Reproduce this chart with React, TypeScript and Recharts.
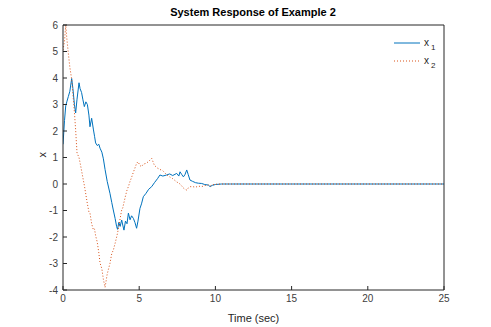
import { LineChart, Line, XAxis, YAxis, Legend } from "recharts";

const times = [
  0, 0.1, 0.18, 0.25, 0.35, 0.45, 0.57, 0.65, 0.75, 0.83, 0.92, 1.05, 1.12, 1.22, 1.3, 1.4, 1.5, 1.6, 1.7, 1.77,
  1.88, 2.0, 2.07, 2.14, 2.25, 2.35, 2.43, 2.55, 2.65, 2.76, 2.9, 3.08, 3.2, 3.3, 3.42, 3.52, 3.58, 3.66, 3.75,
  3.85, 3.92, 4.0, 4.1, 4.2, 4.29, 4.4, 4.5, 4.62, 4.72, 4.83, 4.92, 5.05, 5.15, 5.27, 5.45, 5.62, 5.82, 6.0, 6.2,
  6.36, 6.55, 6.8, 7.0, 7.2, 7.46, 7.6, 7.68, 7.8, 7.9, 8.0, 8.12, 8.22, 8.33, 8.5, 8.7, 8.88, 9.1, 9.3, 9.54,
  9.65, 9.8, 10.0, 10.4, 11, 12, 15, 20, 25,
];

const x1 = [
  1.5, 2.4, 2.95, 3.1, 3.3, 3.5, 3.98, 3.6, 3.0, 2.68, 3.2, 3.82, 3.6, 3.45, 3.2, 2.92, 3.1, 3.0, 2.6, 2.16,
  2.48, 2.04, 1.8, 1.55, 1.45, 1.5, 1.35, 1.2, 0.95, 0.55, 0.1, -0.35, -0.7, -0.98, -1.3, -1.61, -1.71, -1.45, -1.6,
  -1.36, -1.55, -1.74, -1.4, -1.5, -1.1, -1.35, -1.2, -1.3, -1.45, -1.67, -1.4, -0.92, -0.75, -0.48, -0.35, -0.2, -0.1, 0.05, 0.2,
  0.34, 0.3, 0.34, 0.38, 0.32, 0.4, 0.3, 0.46, 0.35, 0.27, 0.35, 0.53, 0.35, 0.15, 0.1, 0.05, 0.03, 0.02, -0.02, -0.04,
  -0.1, -0.05, -0.02, 0, 0, 0, 0, 0, 0,
];

const x2 = [
  5.05, 5.4, 6.0, 5.5, 4.93, 4.4, 3.95, 3.4, 2.7, 2.04, 1.17, 1.0, 0.8, 0.5, 0.25, -0.05, -0.4, -0.75, -1.05, -1.1,
  -1.5, -1.74, -1.7, -1.95, -2.2, -2.6, -2.98, -3.2, -3.6, -3.9, -3.4, -3.0, -2.62, -2.5, -2.24, -2.0, -1.85, -1.6, -1.3,
  -0.98, -0.9, -0.7, -0.45, -0.23, -0.1, 0.1, 0.25, 0.45, 0.6, 0.78, 0.84, 0.7, 0.65, 0.75, 0.78, 0.85, 0.97, 0.7, 0.6,
  0.55, 0.5, 0.35, 0.27, 0.2, 0.08, 0.03, 0.0, -0.08, -0.15, -0.2, -0.23, -0.15, -0.1, -0.1, -0.12, -0.08, -0.1, -0.06, -0.04,
  -0.08, -0.03, -0.01, 0, 0, 0, 0, 0, 0,
];

const xTicks = [0, 5, 10, 15, 20, 25];
const yTicks = [-4, -3, -2, -1, 0, 1, 2, 3, 4, 5, 6];

const data = times.map((t, i) => ({ t, x1: x1[i], x2: x2[i] }));

const FONT = "'Liberation Sans', Arial, sans-serif";
const AXIS = "#262626";
const BLUE = "#0072BD";
const ORANGE = "#D95319";

function LegendBox() {
  return (
    <svg width={70} height={40} style={{ fontFamily: FONT }}>
      <line x1={4} y1={9} x2={30} y2={9} stroke={BLUE} strokeWidth={1} />
      <text x={34} y={12} fontSize={10} fill={AXIS}>x</text>
      <text x={41} y={16} fontSize={8} fill={AXIS}>1</text>
      <line x1={4} y1={27} x2={30} y2={27} stroke={ORANGE} strokeWidth={1} strokeDasharray="1 2" />
      <text x={34} y={30} fontSize={10} fill={AXIS}>x</text>
      <text x={41} y={34} fontSize={8} fill={AXIS}>2</text>
    </svg>
  );
}

export default function App() {
  return (
    <div style={{ position: "absolute", left: 0, top: 0, width: 491, height: 327, background: "#fff", fontFamily: FONT }}>
      <LineChart width={491} height={327} data={data} margin={{ top: 24, right: 46, bottom: 0, left: 13 }}>
        <XAxis
          dataKey="t"
          type="number"
          domain={[0, 25]}
          ticks={xTicks}
          allowDataOverflow
          stroke={AXIS}
          tickSize={-4}
          tickMargin={9}
          tick={{ fontSize: 10, fill: "#404040" }}
          height={37}
          label={{ value: "Time (sec)", position: "insideBottom", offset: 5, fontSize: 11, fill: AXIS }}
        />
        <XAxis xAxisId="top" orientation="top" dataKey="t" type="number" domain={[0, 25]} ticks={xTicks} stroke={AXIS} tickSize={-4} tick={false} height={1} />
        <YAxis
          type="number"
          domain={[-4, 6]}
          ticks={yTicks}
          allowDataOverflow
          stroke={AXIS}
          tickSize={-4}
          tickMargin={9}
          width={50}
          tick={{ fontSize: 10, fill: "#404040" }}
          label={{ value: "x", angle: -90, position: "insideLeft", offset: 0, dx: 29, fontSize: 11, fill: AXIS }}
        />
        <YAxis yAxisId="right" orientation="right" type="number" domain={[-4, 6]} ticks={yTicks} stroke={AXIS} tickSize={-4} tick={false} width={1} />
        <Line dataKey="x1" stroke={BLUE} strokeWidth={1} dot={false} isAnimationActive={false} type="linear" />
        <Line dataKey="x2" stroke={ORANGE} strokeWidth={1} strokeDasharray="1 2" dot={false} isAnimationActive={false} type="linear" />
        <Legend
          layout="horizontal"
          verticalAlign="middle"
          align="center"
          content={() => <LegendBox />}
          wrapperStyle={{ position: "absolute", left: 390, top: 34, width: 70, height: 40 }}
        />
        <text x={253} y={16} textAnchor="middle" fontSize={11} fontWeight="bold" fill="#000" fontFamily={FONT}>
          System Response of Example 2
        </text>
      </LineChart>
    </div>
  );
}
